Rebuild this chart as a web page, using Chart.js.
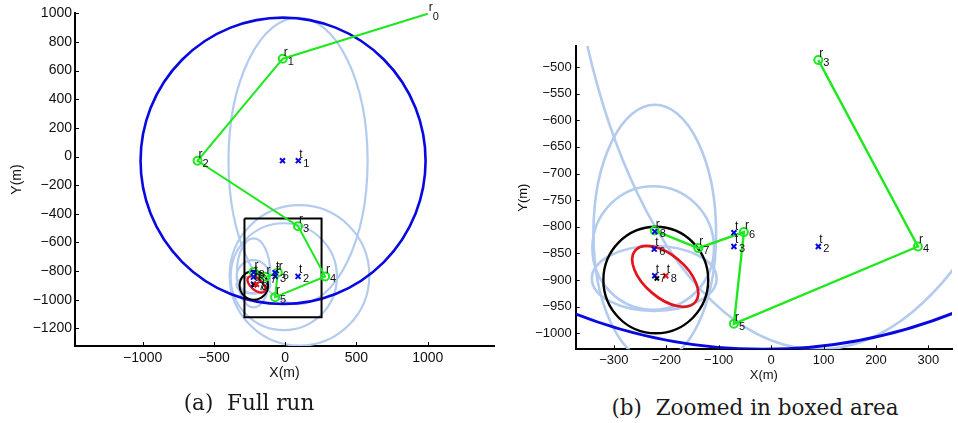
<!DOCTYPE html>
<html>
<head>
<meta charset="utf-8">
<script src="https://cdn.jsdelivr.net/npm/chart.js@4.4.0/dist/chart.umd.min.js"></script>
<style>
  html, body { margin: 0; padding: 0; background: #fff; }
  body { width: 958px; height: 423px; position: relative; overflow: hidden; }
  .wrap { position: absolute; top: 0; height: 390px; }
  #wa { left: 0; width: 500px; }
  #wb { left: 500px; width: 458px; }
  .cap { position: absolute; font-family: "DejaVu Serif"; font-size: 21.5px; white-space: pre; transform: translate(-50%, -50%); color: #1a1a1a; }
</style>
</head>
<body>
<div class="wrap" id="wa"><canvas id="chartA"></canvas></div>
<div class="wrap" id="wb"><canvas id="chartB"></canvas></div>
<div class="cap" style="left:249px; top:402px">(a)  Full run</div>
<div class="cap" style="left:755px; top:407px">(b)  Zoomed in boxed area</div>

<script>
// robot path r0..r8
const robotX = [1000, -17, -615, 90, 280, -71, -52, -139, -222];
const robotY = [997, 683, -30, -487, -837, -982, -810, -840, -807];
const robotIds = ['0', '1', '2', '3', '4', '5', '6', '7', '8'];

// target estimates (null = no label, '' = bare "t")
const estX = [-19, 92, 90, -71, -71, -222, -223, -222];
const estY = [-29, -29, -837, -837, -811, -809, -842, -892];
const estIds = [null, '1', '2', '3', '', null, '6', '7'];

// final estimate and true target
const finalX = [-201], finalY = [-892], finalIds = ['8'];
const trueX = [-218], trueY = [-897];

// boxed area of panel (a)
const boxX = [-286, 255, 255, -286, -286];
const boxY = [-432, -432, -1123, -1123, -432];

// uncertainty ellipses (centre, semi axes)
const ellCX = [90, 100, -10, -222, -225, -223];
const ellCY = [-30, -830, -839, -812, -840, -897];
const ellRX = [488, 490, 373, 117, 116, 119];
const ellRY = [1000, 490, 373, 241, 116, 61];
const ellInZoom = [true, false, false, true, true, true];

// range ring and final circle
const ringCX = [-15, -220], ringCY = [-30, -900], ringR = [1000, 100];
// final error ellipse
const fixCX = -202, fixCY = -893, fixRX = 75, fixRY = 40, fixAng = -40;

// ticks
const xTicksA = [-1000, -500, 0, 500, 1000];
const yTicksA = [-1200, -1000, -800, -600, -400, -200, 0, 200, 400, 600, 800, 1000];
const xTicksB = [-300, -200, -100, 0, 100, 200, 300];
const yTicksB = [-1000, -950, -900, -850, -800, -750, -700, -650, -600, -550, -500];

const FONT = 'Liberation Sans';
const LIGHT = '#b3cbee', BLUE = '#0808e0', GREEN = '#1ee81e', RED = '#e3141c';

function fmt(v) { return v < 0 ? '\u2212' + Math.abs(v) : String(v); }

function strokeEllipse(chart, cx, cy, rx, ry, ang, color, width) {
    const xs = chart.scales.x, ys = chart.scales.y, ctx = chart.ctx, ca = chart.chartArea;
    const px = xs.getPixelForValue(cx), py = ys.getPixelForValue(cy);
    const kx = xs.getPixelForValue(cx + 1) - px, ky = ys.getPixelForValue(cy + 1) - py;
    ctx.save();
    ctx.beginPath();
    ctx.rect(ca.left, ca.top, ca.right - ca.left, ca.bottom - ca.top);
    ctx.clip();
    ctx.beginPath();
    ctx.save();
    ctx.translate(px, py);
    ctx.scale(kx, ky);
    ctx.ellipse(0, 0, rx, ry, ang * Math.PI / 180, 0, Math.PI * 2);
    ctx.restore();
    ctx.strokeStyle = color;
    ctx.lineWidth = width;
    ctx.stroke();
    ctx.restore();
}

const shapesPlugin = {
    id: 'shapes',
    beforeDatasetsDraw(chart) {
        const o = chart.options.plugins.shapes;
        ellCX.forEach((cx, i) => {
            if (o.zoom && !ellInZoom[i]) return;
            strokeEllipse(chart, cx, ellCY[i], ellRX[i], ellRY[i], 0, LIGHT, o.lw + 0.2);
        });
        strokeEllipse(chart, ringCX[0], ringCY[0], ringR[0], ringR[0], 0, BLUE, o.lw + 0.6);
        strokeEllipse(chart, ringCX[1], ringCY[1], ringR[1], ringR[1], 0, '#000', o.lw);
        strokeEllipse(chart, fixCX, fixCY, fixRX, fixRY, fixAng, RED, o.lw + 0.3);
    }
};

// inward tick marks
const tickPlugin = {
    id: 'tickMarks',
    afterDraw(chart) {
        const ctx = chart.ctx, ca = chart.chartArea;
        ctx.save();
        ctx.strokeStyle = '#000';
        ctx.lineWidth = 1;
        ctx.beginPath();
        chart.scales.x.ticks.forEach(t => {
            const p = Math.round(chart.scales.x.getPixelForValue(t.value)) + 0.5;
            ctx.moveTo(p, ca.bottom); ctx.lineTo(p, ca.bottom - 4);
        });
        chart.scales.y.ticks.forEach(t => {
            const p = Math.round(chart.scales.y.getPixelForValue(t.value)) + 0.5;
            ctx.moveTo(ca.left, p); ctx.lineTo(ca.left + 4, p);
        });
        ctx.stroke();
        ctx.restore();
    }
};

function drawLabel(ctx, px, py, main, sub) {
    ctx.font = '12px "' + FONT + '"';
    ctx.fillText(main, px + 1, py - 3);
    if (sub) {
        ctx.font = '11px "' + FONT + '"';
        ctx.fillText(sub, px + 5, py + 6);
    }
}

const labelPlugin = {
    id: 'labels',
    afterDatasetsDraw(chart) {
        const o = chart.options.plugins.labels;
        const xs = chart.scales.x, ys = chart.scales.y, ctx = chart.ctx;
        ctx.save();
        ctx.fillStyle = '#111';
        ctx.textBaseline = 'alphabetic';
        ctx.textAlign = 'left';
        for (let i = o.start; i < robotX.length; i++) {
            drawLabel(ctx, xs.getPixelForValue(robotX[i]), ys.getPixelForValue(robotY[i]), 'r', robotIds[i]);
        }
        estX.forEach((x, i) => {
            if (estIds[i] === null) return;
            if (x < xs.min || x > xs.max || estY[i] < ys.min || estY[i] > ys.max) return;
            drawLabel(ctx, xs.getPixelForValue(x), ys.getPixelForValue(estY[i]), 't', estIds[i]);
        });
        finalX.forEach((x, i) => {
            drawLabel(ctx, xs.getPixelForValue(x), ys.getPixelForValue(finalY[i]), 't', finalIds[i]);
        });
        ctx.restore();
    }
};

function pts(xa, ya, from) {
    return xa.slice(from || 0).map((x, i) => ({ x: x, y: ya[(from || 0) + i] }));
}

function makeChart(id, v) {
    const path = pts(robotX, robotY, v.start);
    return new Chart(document.getElementById(id), {
        type: 'scatter',
        data: {
            datasets: [
                { data: pts(finalX, finalY), pointStyle: 'crossRot', pointRadius: 3.5, borderColor: RED, borderWidth: 2 },
                { data: pts(trueX, trueY), pointStyle: 'crossRot', pointRadius: 3, borderColor: '#000', borderWidth: 2 },
                { data: pts(estX, estY), pointStyle: 'crossRot', pointRadius: 3.5, borderColor: BLUE, borderWidth: 2 },
                {
                    data: path, showLine: true, borderColor: GREEN, borderWidth: v.lw,
                    pointStyle: 'circle', pointRadius: path.map((p, i) => (i + v.start === 0 ? 0 : 4)),
                    pointBorderColor: GREEN, pointBackgroundColor: 'rgba(0,0,0,0)', pointBorderWidth: 2
                },
                v.box ? { data: pts(boxX, boxY), showLine: true, borderColor: '#000', borderWidth: 2, pointRadius: 0 } : { data: [] }
            ]
        },
        options: {
            responsive: true,
            maintainAspectRatio: false,
            animation: false,
            events: [],
            layout: { padding: { top: v.padTop, right: v.padRight, left: 0, bottom: 0 } },
            plugins: {
                legend: { display: false },
                tooltip: { enabled: false },
                shapes: { zoom: v.zoom, lw: v.lw },
                labels: { start: v.start }
            },
            scales: {
                x: {
                    type: 'linear', position: 'bottom', min: v.xMin, max: v.xMax, bounds: 'data',
                    afterBuildTicks: s => { s.ticks = v.xTicks.map(value => ({ value })); },
                    afterFit: s => { s.height = v.xAxisH; },
                    grid: { display: false, drawTicks: false },
                    border: { display: true, color: '#000', width: 2 },
                    ticks: { color: '#111', font: { family: FONT, size: v.fs }, padding: v.xTickPad, maxRotation: 0, autoSkip: false, callback: fmt },
                    title: { display: true, text: 'X(m)', color: '#111', font: { family: FONT, size: v.fs }, padding: { top: 0, bottom: v.xTitlePad } }
                },
                y: {
                    type: 'linear', position: 'left', min: v.yMin, max: v.yMax, bounds: 'data',
                    afterBuildTicks: s => { s.ticks = v.yTicks.map(value => ({ value })); },
                    afterFit: s => { s.width = v.yAxisW; },
                    grid: { display: false, drawTicks: false },
                    border: { display: true, color: '#000', width: 2 },
                    ticks: { color: '#111', font: { family: FONT, size: v.fs }, padding: v.yTickPad, autoSkip: false, callback: fmt },
                    title: { display: true, text: 'Y(m)', color: '#111', font: { family: FONT, size: v.fs }, padding: { top: v.yTitlePad, bottom: 0 } }
                }
            }
        },
        plugins: [shapesPlugin, labelPlugin, tickPlugin]
    });
}

makeChart('chartA', {
    start: 0, zoom: false, box: true, lw: 2, fs: 14,
    xMin: -1475, xMax: 1465, yMin: -1323, yMax: 1002,
    xTicks: xTicksA, yTicks: yTicksA,
    padTop: 13, padRight: 3, xAxisH: 44, yAxisW: 75,
    xTickPad: 4, yTickPad: 3, xTitlePad: 8.6, yTitlePad: 8.6
});

makeChart('chartB', {
    start: 3, zoom: true, box: false, lw: 2.4, fs: 13,
    xMin: -372.8, xMax: 345, yMin: -1030, yMax: -460.6,
    xTicks: xTicksB, yTicks: yTicksB,
    padTop: 46, padRight: 0, xAxisH: 40.7, yAxisW: 75.7,
    xTickPad: 3, yTickPad: 4, xTitlePad: 7.2, yTitlePad: 15.2
});
</script>
</body>
</html>
